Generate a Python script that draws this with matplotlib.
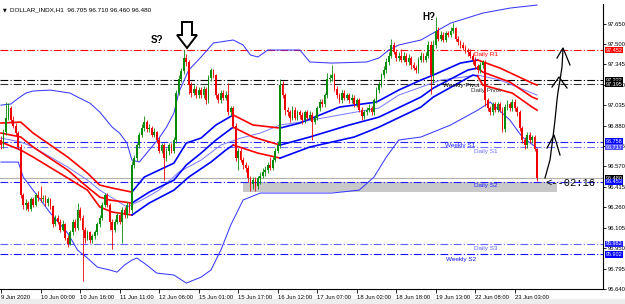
import numpy as np
import matplotlib.pyplot as plt
from matplotlib.transforms import Affine2D
from matplotlib.patches import Polygon, Rectangle
from matplotlib.lines import Line2D

W, H = 625, 304

# ---- H1 candles (DOLLAR_INDX), oldest first ----
first_open = 96.77
closes = [
    96.73, 96.83, 96.94, 97.01, 96.92, 96.88, 96.82, 96.72, 96.35, 96.28,
    96.29, 96.25, 96.32, 96.28, 96.35, 96.33, 96.32, 96.33, 96.29, 96.32,
    96.27, 96.13, 96.18, 96.15, 96.09, 96.13, 96.03, 95.98, 96.07, 96.15,
    96.10, 96.24, 96.18, 96.09, 96.03, 96.07, 96.01, 96.04, 96.07, 96.13,
    96.18, 96.28, 96.35, 96.28, 96.15, 96.09, 96.15, 96.20, 96.15, 96.24,
    96.20, 96.28, 96.24, 96.58, 96.63, 96.73, 96.81, 96.86, 96.91, 96.85,
    96.86, 96.81, 96.83, 96.77, 96.69, 96.73, 96.63, 96.69, 96.73, 96.69,
    96.77, 97.13, 97.23, 97.29, 97.39, 97.36, 97.19, 97.13, 97.16, 97.11,
    97.15, 97.11, 97.16, 97.07, 97.24, 97.30, 97.26, 97.11, 97.07, 97.13,
    97.09, 97.11, 96.98, 97.01, 96.88, 96.63, 96.69, 96.62, 96.58, 96.56,
    96.48, 96.44, 96.47, 96.42, 96.48, 96.50, 96.53, 96.54, 96.58, 96.56,
    96.62, 96.69, 96.73, 97.19, 97.11, 97.00, 96.98, 96.94, 97.00, 96.94,
    96.98, 96.96, 96.92, 96.98, 96.94, 96.96, 96.91, 96.94, 97.01, 97.06,
    97.04, 97.11, 97.23, 97.24, 97.26, 97.16, 97.11, 97.07, 97.13, 97.09,
    97.11, 97.07, 97.09, 97.04, 97.07, 97.00, 96.95, 96.98, 97.00, 97.01,
    96.98, 97.07, 97.15, 97.19, 97.26, 97.30, 97.36, 97.41, 97.49, 97.44,
    97.39, 97.41, 97.38, 97.41, 97.36, 97.39, 97.34, 97.32, 97.30, 97.38,
    97.41, 97.38, 97.41, 97.49, 97.26, 97.49, 97.60, 97.54, 97.57, 97.53,
    97.58, 97.57, 97.60, 97.62, 97.54, 97.51, 97.49, 97.47, 97.45, 97.44,
    97.41, 97.38, 97.33, 97.30, 97.34, 97.36, 97.07, 97.01, 96.98, 97.04,
    97.00, 97.04, 97.00, 96.85, 97.02, 97.04, 97.01, 97.06, 97.01, 96.98,
    96.86, 96.77, 96.73, 96.81, 96.77, 96.79, 96.705, 96.48,
]
highs = [
    96.80, 96.85, 97.06, 97.05, 97.03, 96.95, 96.90, 96.84, 96.74, 96.37,
    96.32, 96.31, 96.34, 96.34, 96.37, 96.38, 96.42, 96.35, 96.35, 96.34,
    96.33, 96.28, 96.20, 96.20, 96.17, 96.16, 96.14, 96.05, 96.09, 96.17,
    96.17, 96.29, 96.26, 96.20, 96.11, 96.09, 96.08, 96.06, 96.09, 96.15,
    96.20, 96.30, 96.37, 96.37, 96.29, 96.17, 96.17, 96.22, 96.21, 96.26,
    96.26, 96.30, 96.30, 96.61, 96.66, 96.75, 96.83, 96.89, 96.95, 96.92,
    96.89, 96.88, 96.86, 96.84, 96.79, 96.75, 96.75, 96.71, 96.75, 96.75,
    96.79, 97.15, 97.26, 97.32, 97.45, 97.42, 97.38, 97.21, 97.19, 97.18,
    97.17, 97.17, 97.18, 97.17, 97.26, 97.32, 97.31, 97.27, 97.13, 97.15,
    97.15, 97.14, 97.20, 97.03, 97.03, 96.90, 96.71, 96.71, 96.64, 96.60,
    96.58, 96.50, 96.49, 96.49, 96.50, 96.53, 96.56, 96.57, 96.60, 96.64,
    96.64, 96.71, 96.76, 97.23, 97.22, 97.13, 97.02, 97.00, 97.03, 97.02,
    97.00, 97.00, 96.98, 97.00, 97.00, 96.99, 96.98, 96.96, 97.03, 97.08,
    97.08, 97.13, 97.28, 97.27, 97.34, 97.28, 97.18, 97.13, 97.15, 97.15,
    97.13, 97.13, 97.12, 97.11, 97.09, 97.09, 97.02, 97.00, 97.02, 97.04,
    97.03, 97.09, 97.17, 97.22, 97.28, 97.33, 97.39, 97.44, 97.54, 97.51,
    97.46, 97.44, 97.46, 97.44, 97.43, 97.42, 97.41, 97.36, 97.34, 97.40,
    97.44, 97.43, 97.44, 97.52, 97.52, 97.53, 97.70, 97.63, 97.60, 97.59,
    97.60, 97.60, 97.63, 97.66, 97.63, 97.56, 97.53, 97.51, 97.49, 97.47,
    97.46, 97.43, 97.40, 97.35, 97.36, 97.38, 97.38, 97.09, 97.03, 97.06,
    97.06, 97.06, 97.06, 97.02, 97.04, 97.07, 97.06, 97.08, 97.08, 97.03,
    97.00, 96.88, 96.79, 96.83, 96.83, 96.81, 96.81, 96.71,
]
lows = [
    96.70, 96.71, 96.81, 96.92, 96.90, 96.86, 96.80, 96.70, 96.33, 96.25,
    96.24, 96.23, 96.23, 96.26, 96.27, 96.31, 96.30, 96.30, 96.27, 96.27,
    96.25, 96.11, 96.12, 96.13, 96.07, 96.08, 96.01, 95.96, 95.97, 96.05,
    96.08, 96.09, 96.16, 95.70, 95.99, 96.01, 95.99, 95.99, 96.02, 96.05,
    96.11, 96.16, 96.26, 96.26, 96.09, 95.94, 96.07, 96.13, 96.13, 95.99,
    96.18, 96.18, 96.22, 96.22, 96.56, 96.61, 96.71, 96.79, 96.84, 96.83,
    96.83, 96.79, 96.79, 96.75, 96.67, 96.67, 96.47, 96.61, 96.66, 96.67,
    96.67, 96.75, 97.11, 97.21, 97.27, 97.33, 97.12, 97.10, 97.11, 97.09,
    97.09, 97.09, 97.09, 97.04, 97.05, 97.22, 97.24, 97.09, 97.05, 97.05,
    97.07, 97.07, 96.96, 96.95, 96.86, 96.61, 96.54, 96.60, 96.55, 96.53,
    96.45, 96.38, 96.40, 96.38, 96.40, 96.44, 96.48, 96.50, 96.52, 96.54,
    96.54, 96.60, 96.67, 96.71, 97.09, 96.96, 96.95, 96.91, 96.92, 96.92,
    96.92, 96.93, 96.89, 96.90, 96.92, 96.92, 96.77, 96.89, 96.92, 96.99,
    97.02, 97.02, 97.09, 97.21, 97.22, 97.14, 97.09, 97.05, 97.05, 97.07,
    97.07, 97.05, 97.05, 97.02, 97.02, 96.98, 96.92, 96.93, 96.96, 96.98,
    96.96, 96.96, 97.05, 97.13, 97.17, 97.24, 97.28, 97.34, 97.39, 97.42,
    97.37, 97.37, 97.36, 97.36, 97.34, 97.34, 97.31, 97.30, 97.28, 97.28,
    97.36, 97.36, 97.36, 97.39, 97.12, 97.20, 97.47, 97.52, 97.52, 97.51,
    97.51, 97.55, 97.55, 97.58, 97.52, 97.49, 97.47, 97.45, 97.43, 97.41,
    97.39, 97.35, 97.31, 97.28, 97.28, 97.32, 97.03, 96.99, 96.96, 96.96,
    96.98, 96.98, 96.98, 96.83, 96.83, 97.00, 96.99, 96.99, 96.99, 96.95,
    96.84, 96.75, 96.70, 96.71, 96.75, 96.75, 96.69, 96.46,
]
opens = [first_open] + closes[:-1]

# ---- Bollinger bands, read at selected bars ----
bb_up_idx = [0, 4, 6, 10, 13, 20, 28, 31, 36, 40, 45, 48, 51, 53, 56, 60, 64, 67, 70, 72,
             76, 81, 86, 94, 98, 101, 104, 108, 121, 125, 134, 148, 153, 157, 161, 170,
             182, 195, 206, 217]
bb_up = [97.035, 97.043, 97.073, 97.126, 97.142, 97.149, 97.126, 97.096, 97.050, 96.982,
         96.868, 96.823, 96.747, 96.618, 96.603, 96.694, 96.785, 96.868, 96.975, 97.134,
         97.301, 97.400, 97.506, 97.529, 97.491, 97.415, 97.400, 97.453, 97.453, 97.362,
         97.354, 97.362, 97.392, 97.453, 97.491, 97.529, 97.657, 97.733, 97.771, 97.794]
bb_lo_idx = [0, 7, 9, 13, 20, 27, 31, 35, 39, 44, 47, 50, 53, 55, 59, 63, 70, 75, 81, 85,
             89, 93, 98, 105, 134, 145, 151, 156, 161, 170, 182, 193, 198, 206, 211, 217]
bb_lo = [96.603, 96.603, 96.489, 96.390, 96.216, 96.064, 95.935, 95.875, 95.806, 95.784,
         95.768, 95.822, 95.859, 95.875, 95.822, 95.761, 95.746, 95.685, 95.730, 95.784,
         95.935, 96.125, 96.315, 96.368, 96.368, 96.390, 96.489, 96.641, 96.770, 96.793,
         96.884, 96.997, 97.058, 96.922, 96.793, 96.709]
bb_mid_idx = [0, 8, 13, 27, 35, 40, 51, 57, 64, 72, 81, 89, 97, 105, 113, 121, 137, 153,
              161, 178, 193, 202, 217]
bb_mid = [96.785, 96.755, 96.717, 96.565, 96.466, 96.390, 96.262, 96.315, 96.390, 96.527,
          96.618, 96.732, 96.785, 96.823, 96.884, 96.906, 96.960, 97.013, 97.111, 97.225,
          97.263, 97.225, 97.111]

# ---- moving-average ribbon (red = above price, blue = below) ----
rib_switch = [53, 94, 113, 193]
rib_colors = ['#ff0000', '#0000ff', '#ff0000', '#0000ff', '#ff0000']
rib_top_idx = [0, 8, 13, 27, 35, 40, 45, 53, 58, 64, 70, 75, 81, 87, 94, 102, 113, 121,
               137, 152, 161, 170, 175, 186, 193, 202, 215, 217]
rib_top = [96.899, 96.906, 96.823, 96.641, 96.519, 96.428, 96.406, 96.375, 96.489, 96.542,
           96.595, 96.747, 96.785, 96.884, 96.960, 96.884, 96.861, 96.899, 97.020, 97.058,
           97.149, 97.225, 97.263, 97.354, 97.377, 97.316, 97.202, 97.187]
rib_mid_idx = [0, 8, 13, 27, 33, 40, 44, 53, 60, 70, 75, 81, 87, 94, 102, 113, 125, 141,
               153, 170, 175, 189, 193, 195, 206, 215, 217]
rib_mid = [96.823, 96.793, 96.717, 96.542, 96.444, 96.337, 96.315, 96.292, 96.375, 96.466,
           96.580, 96.671, 96.770, 96.868, 96.793, 96.732, 96.793, 96.884, 96.944, 97.096,
           97.164, 97.301, 97.316, 97.286, 97.210, 97.096, 97.081]
rib_bot_idx = [0, 8, 13, 27, 35, 40, 45, 53, 60, 70, 76, 85, 91, 94, 104, 113, 125, 143,
               153, 170, 175, 191, 193, 195, 207, 215, 217]
rib_bot = [96.755, 96.694, 96.641, 96.482, 96.390, 96.262, 96.224, 96.201, 96.292, 96.390,
           96.489, 96.603, 96.694, 96.732, 96.671, 96.633, 96.717, 96.793, 96.868, 97.020,
           97.096, 97.263, 97.255, 97.187, 97.126, 97.020, 96.997]

# ---- pivot levels ----
levels = [
    ('Daily R1', 97.452, '#ff0000', 191.5, 97.418),
    ('Weekly Pivot', 97.222, '#000000', 179.0, 97.187),
    ('Daily Pivot', 97.195, '#303030', 190.3, 97.149),
    ('Weekly S1', 96.758, '#2020ff', 179.8, 96.728),
    ('Daily S1', 96.717, '#7070ff', 191.5, 96.683),
    ('Daily S2', 96.453, '#2020ff', 191.5, 96.425),
    ('Daily S3', 95.982, '#6060ff', 191.5, 95.950),
    ('Weekly S2', 95.902, '#1010ff', 180.0, 95.867),
]
price_boxes = [(97.452, '#ff0000'), (97.222, '#000000'), (97.195, '#000000'),
               (96.758, '#0000ff'), (96.717, '#5050ff'), (96.480, '#000000'),
               (96.453, '#0000ff'), (95.982, '#2020ff'), (95.902, '#0000ff')]
bid = 96.480
zone_bars = (98, 225)
zone_prices = (96.375, 96.453)

yticks = [95.640, 95.795, 95.950, 96.105, 96.260, 96.415, 96.570, 96.725,
          96.880, 97.035, 97.190, 97.345, 97.500, 97.650]
xtick_bars = list(range(0, 209, 16))
xtick_labels = ['9 Jun 2020', '10 Jun 00:00', '10 Jun 16:00', '11 Jun 11:00',
                '12 Jun 06:00', '15 Jun 01:00', '15 Jun 17:00', '16 Jun 12:00',
                '17 Jun 07:00', '18 Jun 02:00', '18 Jun 18:00', '19 Jun 13:00',
                '22 Jun 08:00', '23 Jun 03:00']

plt.rcParams['font.family'] = ['Liberation Sans', 'DejaVu Sans']

fig = plt.figure(figsize=(W / 100, H / 100), dpi=100)
ax = fig.add_axes([0, 1 - 289 / H, 603 / W, 285 / H])
ax.set_xlim(-0.4, 243.7)
ax.set_ylim(95.640, 97.802)
px = Affine2D().scale(1 / W, -1 / H).translate(0, 1) + fig.transFigure

# bottom tab strip
fig.patches.append(Rectangle((0, 0), 1, 5 / H, transform=fig.transFigure,
                             facecolor='#ededed', edgecolor='none', zorder=0))

# levels
dashdot = (0, (7, 2, 1, 2))
for name, y, col, tx, ty in levels:
    ax.axhline(y, color=col, lw=0.8, ls=dashdot, zorder=2)
    ax.text(tx, ty, name, color=col, fontsize=4.6, va='center', ha='left', zorder=6)
ax.axhline(bid, color='#b0b0b0', lw=0.8, zorder=1)
ax.add_patch(Rectangle((zone_bars[0], zone_prices[0]), zone_bars[1] - zone_bars[0],
                       zone_prices[1] - zone_prices[0], facecolor='#c8c8c8',
                       edgecolor='none', zorder=1))

# Bollinger bands
ax.plot(bb_up_idx, bb_up, color='#3a3aff', lw=0.75, zorder=3)
ax.plot(bb_lo_idx, bb_lo, color='#3a3aff', lw=0.75, zorder=3)
ax.plot(bb_mid_idx, bb_mid, color='#8080ff', lw=0.75, zorder=3)

# ribbon
def draw_ribbon(idx, vals):
    idx = np.array(idx)
    vals = np.array(vals)
    bounds = [idx[0]] + rib_switch + [idx[-1]]
    for k in range(len(bounds) - 1):
        m = (idx >= bounds[k]) & (idx <= bounds[k + 1])
        ax.plot(idx[m], vals[m], color=rib_colors[k], lw=1.2, zorder=4)

draw_ribbon(rib_top_idx, rib_top)
draw_ribbon(rib_mid_idx, rib_mid)
draw_ribbon(rib_bot_idx, rib_bot)

# candles
x = np.arange(len(closes))
o = np.array(opens)
c = np.array(closes)
cols = np.where(c >= o, '#088c08', '#f00000')
ax.vlines(x, lows, highs, colors=cols, lw=0.6, zorder=5)
body = np.where(np.abs(c - o) < 0.004, 0.004, c - o)
ax.bar(x, body, bottom=o, width=0.72, color=cols, linewidth=0, zorder=5)

# axes styling
for s in ['left', 'top']:
    ax.spines[s].set_visible(False)
for s in ['right', 'bottom']:
    ax.spines[s].set_linewidth(0.8)
ax.yaxis.tick_right()
ax.set_yticks(yticks)
ax.set_yticklabels(['%.3f' % v for v in yticks])
ax.tick_params(axis='y', labelsize=4.2, length=2, width=0.6, pad=1.5)
ax.set_xticks(xtick_bars)
ax.set_xticklabels(xtick_labels, ha='left')
ax.tick_params(axis='x', labelsize=4.2, length=3, width=0.6, pad=1.5)

for y, col in price_boxes:
    ax.text(1.004, y, '%.3f' % y, transform=ax.get_yaxis_transform(), fontsize=4.0,
            color='white', va='center', ha='left', clip_on=False, zorder=7,
            bbox=dict(boxstyle='square,pad=0.12', facecolor=col, edgecolor='none'))

# header
fig.text(3 / W, 1 - 9.5 / H, '\u25bc', fontsize=3.5, va='center', ha='left',
         family='DejaVu Sans')
fig.text(10 / W, 1 - 9.5 / H, 'DOLLAR_INDX,H1  96.705 96.710 96.460 96.480',
         fontsize=4.6, va='center', ha='left')

# annotations
fig.text(157 / W, 1 - 40 / H, 'S?', fontsize=7, fontweight='bold', ha='center', va='center')
fig.text(429 / W, 1 - 17 / H, 'H?', fontsize=7, fontweight='bold', ha='center', va='center')
arrow = Polygon([(182, 22), (192, 22), (192, 35), (197, 35), (187, 48), (177, 35), (182, 35)],
                closed=True, facecolor='white', edgecolor='black', lw=1.4,
                transform=px, zorder=8)
fig.patches.append(arrow)

sketch = [[(545, 178), (550, 160), (553, 137), (555, 120), (557, 100), (558, 92),
           (560, 80), (562, 67), (563, 49)],
          [(547, 148), (554, 135), (560, 155)],
          [(552, 87), (559, 77), (567, 88)],
          [(557, 58), (563, 48), (570, 65)]]
for pts in sketch:
    xs, ys = zip(*pts)
    fig.lines.append(Line2D(xs, ys, color='black', lw=0.9, transform=px))

ax.text(220.5, 96.443, '<--02:16', fontsize=7.5, family='Liberation Mono',
        va='center', ha='left', zorder=7)

fig.savefig('out.png', dpi=100)
